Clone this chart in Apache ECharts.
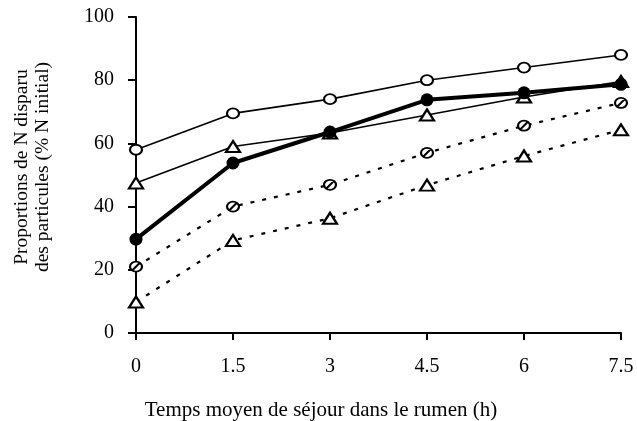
<!DOCTYPE html>
<html>
<head>
<meta charset="utf-8">
<script src="https://cdn.jsdelivr.net/npm/echarts@6/dist/echarts.min.js"></script>
<style>
  html, body { margin: 0; padding: 0; background: #fff; }
  #main { width: 637px; height: 421px; }
</style>
</head>
<body>
<div id="main"></div>
<script>
// temps moyen de séjour (h)
var temps = [0, 1.5, 3, 4.5, 6, 7.5];

// proportions de N disparu (% N initial)
var cercleTrait = [58, 69.5, 74, 80, 84, 88];
var triangleTrait = [47.5, 59, 63.3, 69, 74.7, 79.6];
var pleinGras = [29.7, 53.8, 63.6, 73.8, 76, 78.7];
var cercleTirets = [21, 40, 46.9, 57, 65.6, 72.8];
var triangleTirets = [9.8, 29.3, 36.3, 46.8, 56, 64.3];

var titreX = 'Temps moyen de séjour dans le rumen (h)';
var titreY = 'Proportions de N disparu\ndes particules (% N initial)';

function paires(ys) {
  return temps.map(function (t, i) { return [t, ys[i]]; });
}

var police = '"Liberation Serif", "DejaVu Serif", serif';
var cercleBarre = 'path://M0,5A6,5 0 1,1 12,5A6,5 0 1,1 0,5ZM2.5,8.5L9.5,1.5';

var chart = echarts.init(document.getElementById('main'));

chart.setOption({
  animation: false,
  backgroundColor: '#fff',
  textStyle: { fontFamily: police, color: '#000' },
  grid: { left: 136, right: 16, top: 17, bottom: 88 },
  xAxis: {
    type: 'value',
    min: 0,
    max: 7.5,
    interval: 1.5,
    axisLine: { show: true, lineStyle: { color: '#000', width: 2 } },
    axisTick: { show: true, length: 7, lineStyle: { color: '#000', width: 2 } },
    axisLabel: { color: '#000', fontSize: 20, fontFamily: police, margin: 24 },
    splitLine: { show: false }
  },
  yAxis: {
    type: 'value',
    min: 0,
    max: 100,
    interval: 20,
    axisLine: { show: true, lineStyle: { color: '#000', width: 2 } },
    axisTick: { show: true, length: 8, lineStyle: { color: '#000', width: 2 } },
    axisLabel: { color: '#000', fontSize: 20, fontFamily: police, margin: 22 },
    splitLine: { show: false }
  },
  graphic: [
    {
      type: 'text',
      x: 321,
      y: 410,
      style: {
        text: titreX,
        font: '21px ' + police,
        fill: '#000',
        textAlign: 'center',
        textVerticalAlign: 'middle'
      }
    },
    {
      type: 'text',
      x: 32,
      y: 167,
      rotation: Math.PI / 2,
      style: {
        text: titreY,
        font: '19.5px ' + police,
        fill: '#000',
        textAlign: 'center',
        textVerticalAlign: 'middle',
        lineHeight: 21
      }
    }
  ],
  series: [
    {
      type: 'line',
      data: paires(cercleTirets),
      symbol: cercleBarre,
      symbolSize: [12, 10],
      lineStyle: { color: '#000', width: 2.2, type: [4, 8] },
      itemStyle: { color: '#fff', borderColor: '#000', borderWidth: 2 },
      z: 2
    },
    {
      type: 'line',
      data: paires(triangleTirets),
      symbol: 'triangle',
      symbolSize: [14, 11],
      lineStyle: { color: '#000', width: 2.2, type: [4, 8] },
      itemStyle: { color: '#fff', borderColor: '#000', borderWidth: 2.2 },
      z: 2
    },
    {
      type: 'line',
      data: paires(cercleTrait),
      symbol: 'circle',
      symbolSize: [12, 10],
      lineStyle: { color: '#000', width: 1.6 },
      itemStyle: { color: '#fff', borderColor: '#000', borderWidth: 2 },
      z: 3
    },
    {
      type: 'line',
      data: paires(triangleTrait),
      symbol: 'triangle',
      symbolSize: [14, 11],
      lineStyle: { color: '#000', width: 1.6 },
      itemStyle: { color: '#fff', borderColor: '#000', borderWidth: 2.2 },
      z: 3
    },
    {
      type: 'line',
      data: paires(pleinGras),
      symbol: 'circle',
      symbolSize: 13,
      lineStyle: { color: '#000', width: 4 },
      itemStyle: { color: '#000', borderColor: '#000', borderWidth: 0 },
      z: 4
    }
  ]
});
</script>
</body>
</html>
